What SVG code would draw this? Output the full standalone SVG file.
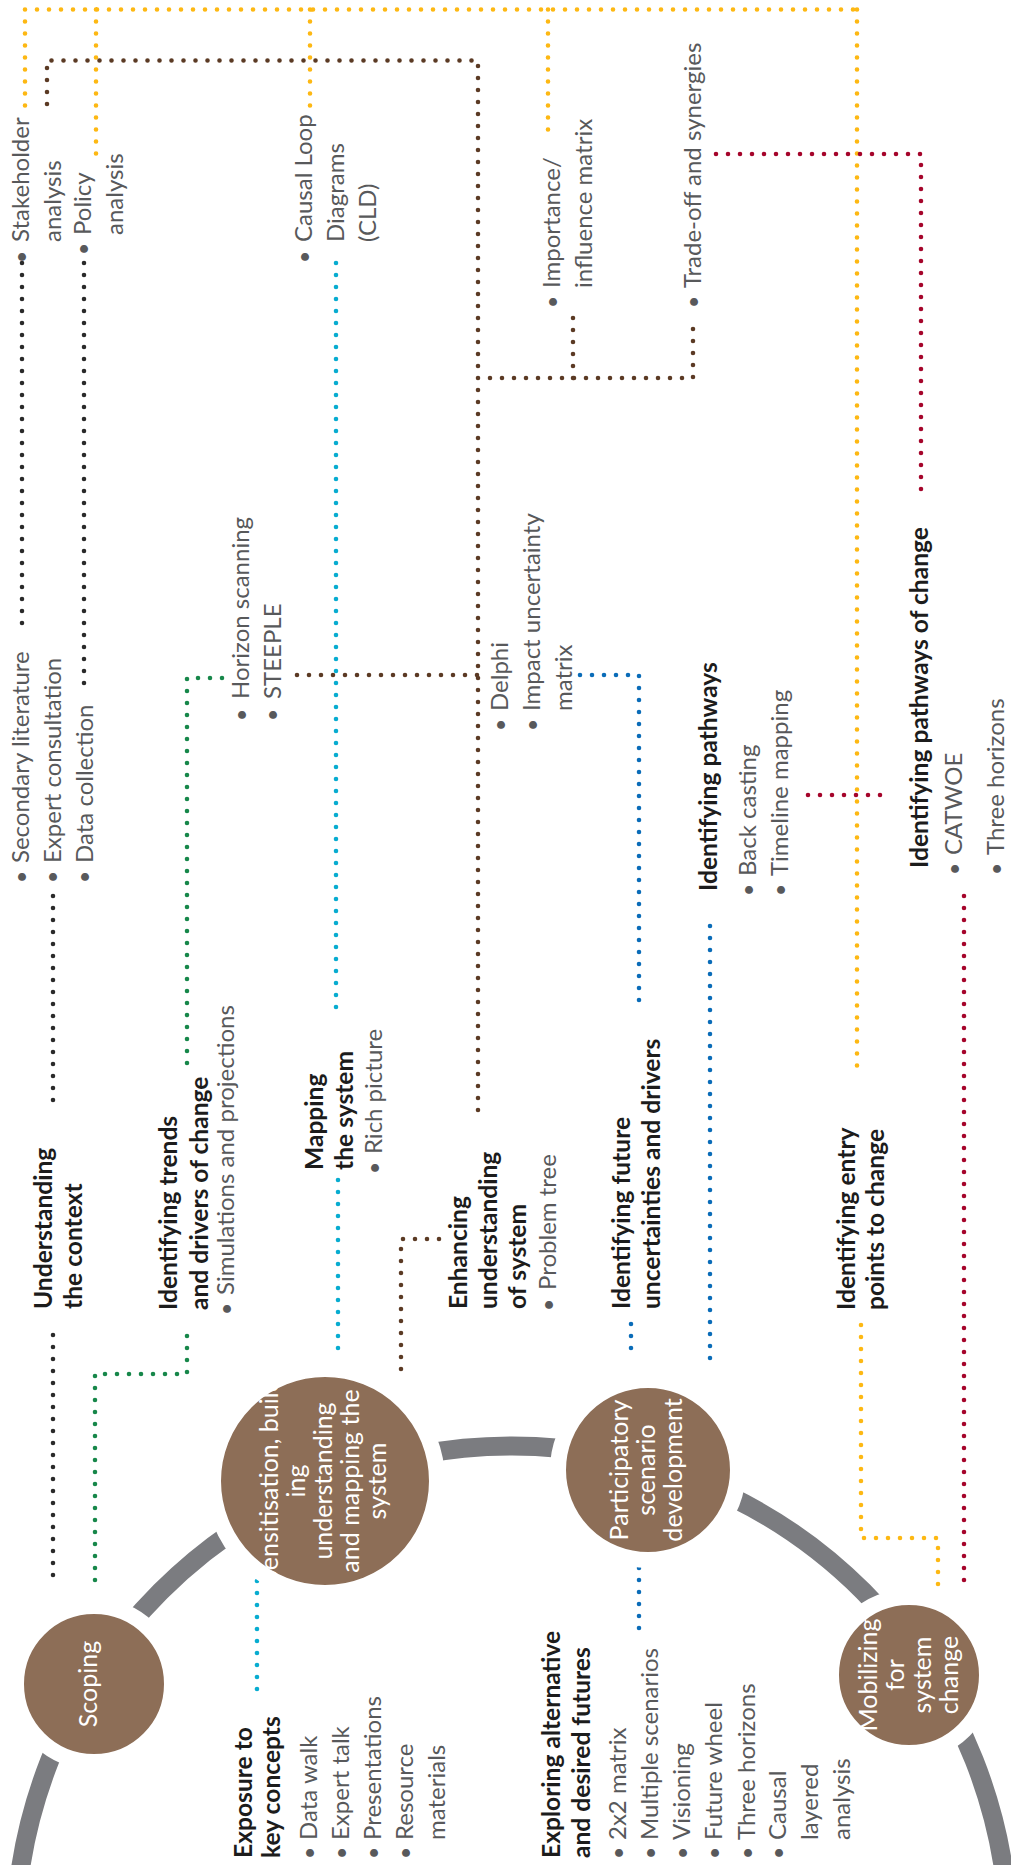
<svg xmlns="http://www.w3.org/2000/svg" width="1011" height="1865" viewBox="0 0 1011 1865">
<style>
.d{fill:none;stroke-width:4.6;stroke-linecap:round;stroke-dasharray:0 12}
.y{stroke:#fdb813}.br{stroke:#5b3a24}.bk{stroke:#2a2a2a}.g{stroke:#17874a}.c{stroke:#08acd0}.bl{stroke:#0a6cb8}.r{stroke:#a5052b}
text{font-family:Lato,"Liberation Sans",sans-serif;font-size:24px}
.t{fill:#58595b}
.h{fill:#1c1c1c;font-weight:700;font-size:24.6px}
.u{fill:#58595b;text-anchor:middle;font-size:21px}
.w{fill:#fff;text-anchor:middle;font-size:25px}
.stage{fill:#8d6e57;stroke:#fff;stroke-width:16}
</style>
<defs>
<clipPath id="clipSens" clipPathUnits="userSpaceOnUse"><circle cx="325" cy="1481" r="112"/></clipPath>
</defs>
<rect width="1011" height="1865" fill="#fff"/>

<g id="arc"><circle cx="512" cy="1943" r="497" fill="none" stroke="#7b7c80" stroke-width="19"/></g>

<g id="connectors">
<path class="d y" d="M25 9.5H857M25 9.5V109M96 9.5V162M310 9.5V106M548 9.5V138M857 9.5V1068M861 1325V1538H938V1585"/>
<path class="d br" d="M47 104V60.5H478V1120M478 378H693V317M573 378V312M297 675H478M439 1239H401V1370"/>
<path class="d bk" d="M22 263V631M84 263V688M53 896V1103M53 1335V1580"/>
<path class="d g" d="M222 678H187V1065M187 1336V1374H95V1582"/>
<path class="d c" d="M336 263V1018M338 1180V1360M257 1581V1693"/>
<path class="d bl" d="M580 675H639V1007M631 1324V1360M710 926V1367M639 1568V1637"/>
<path class="d r" d="M716 154H921V493M808 795H886M964 896V1585"/>
</g>

<g id="stage-scoping">
<circle class="stage" cx="94" cy="1684" r="78"/>
<text class="w" transform="rotate(-90)" x="-1684" y="97">Scoping</text>
</g>
<g id="stage-sensitisation">
<circle class="stage" cx="325" cy="1481" r="112"/>
<g clip-path="url(#clipSens)">
<g transform="rotate(-90)">
<text class="w" x="-1481" y="278">Sensitisation, build</text>
<text class="w" x="-1481" y="305">ing</text>
<text class="w" x="-1481" y="332">understanding</text>
<text class="w" x="-1481" y="359">and mapping the</text>
<text class="w" x="-1481" y="386">system</text>
</g>
</g>
</g>
<g id="stage-participatory">
<circle class="stage" cx="648" cy="1470" r="90"/>
<g transform="rotate(-90)">
<text class="w" x="-1470" y="628">Participatory</text>
<text class="w" x="-1470" y="655">scenario</text>
<text class="w" x="-1470" y="682">development</text>
</g>
</g>
<g id="stage-mobilizing">
<circle class="stage" cx="909" cy="1675" r="78"/>
<g transform="rotate(-90)">
<text class="w" x="-1675" y="877">Mobilizing</text>
<text class="w" x="-1675" y="904">for</text>
<text class="w" x="-1675" y="931">system</text>
<text class="w" x="-1675" y="958">change</text>
</g>
</g>

<g transform="rotate(-90)">
<g id="stakeholder-analysis">
<text class="u" x="-257" y="29">•</text>
<text class="t" x="-242" y="29">Stakeholder</text>
<text class="t" x="-242" y="61">analysis</text>
</g>
<g id="policy-analysis">
<text class="u" x="-249" y="91">•</text>
<text class="t" x="-235" y="91">Policy</text>
<text class="t" x="-235" y="123">analysis</text>
</g>
<g id="causal-loop">
<text class="u" x="-257" y="312">•</text>
<text class="t" x="-242" y="312">Causal Loop</text>
<text class="t" x="-242" y="344">Diagrams</text>
<text class="t" x="-242" y="376">(CLD)</text>
</g>
<g id="importance-matrix">
<text class="u" x="-302" y="560">•</text>
<text class="t" x="-288" y="560">Importance/</text>
<text class="t" x="-288" y="592">influence matrix</text>
</g>
<g id="trade-off">
<text class="u" x="-302" y="701">•</text>
<text class="t" x="-288" y="701">Trade-off and synergies</text>
</g>
<g id="context-methods">
<text class="u" x="-877" y="29">•</text>
<text class="t" x="-863" y="29">Secondary literature</text>
<text class="u" x="-877" y="60">•</text>
<text class="t" x="-863" y="61">Expert consultation</text>
<text class="u" x="-877" y="92">•</text>
<text class="t" x="-863" y="93">Data collection</text>
</g>
<g id="horizon-steeple">
<text class="u" x="-715" y="249">•</text>
<text class="t" x="-699" y="249">Horizon scanning</text>
<text class="u" x="-715" y="280">•</text>
<text class="t" x="-699" y="281">STEEPLE</text>
</g>
<g id="delphi-impact">
<text class="u" x="-725" y="508">•</text>
<text class="t" x="-711" y="508">Delphi</text>
<text class="u" x="-725" y="540">•</text>
<text class="t" x="-711" y="540">Impact uncertainty</text>
<text class="t" x="-711" y="572">matrix</text>
</g>
<g id="identifying-pathways">
<text class="h" x="-891" y="717">Identifying pathways</text>
<text class="u" x="-890" y="756">•</text>
<text class="t" x="-876" y="756">Back casting</text>
<text class="u" x="-890" y="788">•</text>
<text class="t" x="-876" y="788">Timeline mapping</text>
</g>
<g id="pathways-of-change">
<text class="h" x="-868" y="928">Identifying pathways of change</text>
<text class="u" x="-869" y="962">•</text>
<text class="t" x="-855" y="962">CATWOE</text>
<text class="u" x="-869" y="1004">•</text>
<text class="t" x="-855" y="1004">Three horizons</text>
</g>
<g id="understanding-context">
<text class="h" x="-1309" y="52">Understanding</text>
<text class="h" x="-1309" y="82">the context</text>
</g>
<g id="trends-drivers">
<text class="h" x="-1310" y="177">Identifying trends</text>
<text class="h" x="-1310" y="208">and drivers of change</text>
<text class="u" x="-1309" y="234">•</text>
<text class="t" x="-1295" y="234">Simulations and projections</text>
</g>
<g id="mapping-system">
<text class="h" x="-1170" y="323">Mapping</text>
<text class="h" x="-1170" y="353">the system</text>
<text class="u" x="-1168" y="382">•</text>
<text class="t" x="-1154" y="382">Rich picture</text>
</g>
<g id="enhancing-understanding">
<text class="h" x="-1309" y="467">Enhancing</text>
<text class="h" x="-1309" y="497">understanding</text>
<text class="h" x="-1309" y="526">of system</text>
<text class="u" x="-1305" y="556">•</text>
<text class="t" x="-1290" y="556">Problem tree</text>
</g>
<g id="future-uncertainties">
<text class="h" x="-1309" y="630">Identifying future</text>
<text class="h" x="-1309" y="660">uncertainties and drivers</text>
</g>
<g id="entry-points">
<text class="h" x="-1310" y="855">Identifying entry</text>
<text class="h" x="-1310" y="884">points to change</text>
</g>
<g id="exposure-concepts">
<text class="h" x="-1858" y="252">Exposure to</text>
<text class="h" x="-1858" y="280">key concepts</text>
<text class="u" x="-1853" y="317">•</text>
<text class="t" x="-1840" y="317">Data walk</text>
<text class="u" x="-1853" y="349">•</text>
<text class="t" x="-1840" y="349">Expert talk</text>
<text class="u" x="-1853" y="381">•</text>
<text class="t" x="-1840" y="381">Presentations</text>
<text class="u" x="-1853" y="413">•</text>
<text class="t" x="-1840" y="413">Resource</text>
<text class="t" x="-1840" y="445">materials</text>
</g>
<g id="exploring-futures">
<text class="h" x="-1858" y="560">Exploring alternative</text>
<text class="h" x="-1858" y="590">and desired futures</text>
<text class="u" x="-1853" y="626">•</text>
<text class="t" x="-1840" y="626">2x2 matrix</text>
<text class="u" x="-1853" y="658">•</text>
<text class="t" x="-1840" y="658">Multiple scenarios</text>
<text class="u" x="-1853" y="690">•</text>
<text class="t" x="-1840" y="690">Visioning</text>
<text class="u" x="-1853" y="722">•</text>
<text class="t" x="-1840" y="722">Future wheel</text>
<text class="u" x="-1853" y="755">•</text>
<text class="t" x="-1840" y="755">Three horizons</text>
<text class="u" x="-1853" y="786">•</text>
<text class="t" x="-1840" y="786">Causal</text>
<text class="t" x="-1840" y="818">layered</text>
<text class="t" x="-1840" y="850">analysis</text>
</g>
</g>
</svg>
